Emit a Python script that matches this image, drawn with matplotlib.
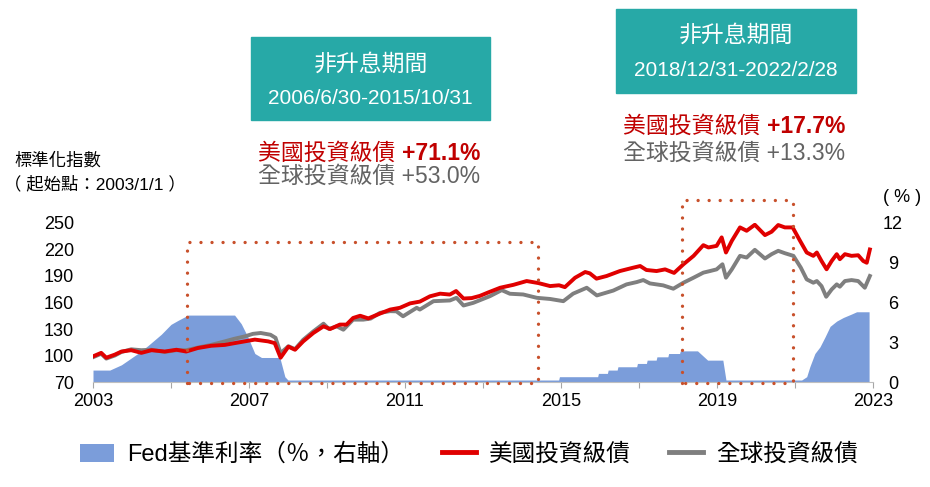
import matplotlib
matplotlib.use("Agg")
import matplotlib.pyplot as plt
from matplotlib.patches import Rectangle, Patch
from matplotlib.lines import Line2D

plt.rcParams['font.family'] = ['Liberation Sans', 'Noto Sans CJK TC', 'DejaVu Sans']

# ---- data (x in chart years) ----
us_t = [2003.00, 2003.21, 2003.34, 2003.56, 2003.73, 2003.98, 2004.24, 2004.50, 2004.84, 2005.14,
        2005.39, 2005.69, 2006.03, 2006.38, 2006.63, 2006.89, 2007.15, 2007.49, 2007.66, 2007.81,
        2008.01, 2008.18, 2008.39, 2008.65, 2008.91, 2009.08, 2009.33, 2009.50, 2009.67, 2009.85,
        2010.06, 2010.36, 2010.62, 2010.87, 2011.13, 2011.38, 2011.64, 2011.90, 2012.15, 2012.31,
        2012.50, 2012.71, 2012.92, 2013.14, 2013.44, 2013.78, 2014.12, 2014.42, 2014.72, 2014.95,
        2015.10, 2015.36, 2015.62, 2015.74, 2015.91, 2016.17, 2016.51, 2016.85, 2017.03, 2017.19,
        2017.45, 2017.67, 2017.90, 2018.14, 2018.40, 2018.65, 2018.78, 2018.99, 2019.12, 2019.23,
        2019.38, 2019.59, 2019.76, 2019.97, 2020.23, 2020.40, 2020.57, 2020.74, 2020.94, 2021.13,
        2021.30, 2021.47, 2021.56, 2021.68, 2021.81, 2021.94, 2022.07, 2022.15, 2022.28, 2022.45,
        2022.62, 2022.75, 2022.84, 2022.92]
us_v = [99, 103, 97.5, 101, 104.5, 106, 103, 106, 104.5, 106.5,
        104.5, 108.5, 111, 112, 114, 116, 118, 116, 114, 97.5,
        110, 106.5, 116, 125.5, 133, 130, 135, 135, 142.5, 145,
        142, 147.5, 152, 154, 159, 161, 167, 170, 169, 173,
        164.5, 165, 167.5, 171.5, 176.7, 180, 184.3, 182, 178.6, 179.5,
        177.4, 188, 194.5, 193, 187, 190, 195.6, 199.4, 201.3, 196.8,
        195.6, 197.5, 193.5, 203.3, 212.8, 224.9, 222.3, 224.1, 233.7, 216.6,
        229.8, 245, 241.2, 248, 236.3, 240.1, 247.7, 245, 245, 229.8,
        216.6, 212.8, 216.6, 207, 197.6, 207, 214.7, 209, 214.7, 212.8,
        213.5, 207, 205, 220]

gl_t = [2003.00, 2003.21, 2003.34, 2003.56, 2003.73, 2003.98, 2004.24, 2004.50, 2004.84, 2005.14,
        2005.39, 2005.69, 2006.03, 2006.38, 2006.63, 2006.89, 2007.10, 2007.30, 2007.55, 2007.68,
        2007.81, 2008.01, 2008.18, 2008.39, 2008.65, 2008.91, 2009.05, 2009.25, 2009.42, 2009.67,
        2009.93, 2010.12, 2010.36, 2010.62, 2010.78, 2010.95, 2011.30, 2011.38, 2011.73, 2012.15,
        2012.32, 2012.50, 2012.75, 2013.18, 2013.48, 2013.69, 2014.03, 2014.38, 2014.72, 2015.06,
        2015.31, 2015.66, 2015.92, 2016.34, 2016.68, 2016.94, 2017.11, 2017.28, 2017.62, 2017.88,
        2018.14, 2018.40, 2018.65, 2018.82, 2018.99, 2019.14, 2019.23, 2019.38, 2019.59, 2019.76,
        2019.97, 2020.23, 2020.40, 2020.57, 2020.74, 2020.96, 2021.15, 2021.30, 2021.47, 2021.56,
        2021.68, 2021.80, 2021.94, 2022.07, 2022.15, 2022.28, 2022.45, 2022.62, 2022.79, 2022.92]
gl_v = [98, 102, 96.5, 100, 104, 107, 106, 106.5, 104, 106,
        106, 109, 112, 116, 119, 121.6, 124.5, 125.5, 123.5, 120,
        102.7, 110.5, 107.2, 117.8, 127.3, 136, 130, 133, 129.2, 140.6,
        140.6, 141.8, 148.3, 150.2, 150, 144.4, 154, 152, 161.5, 162.3,
        165.3, 156.6, 159.6, 167.2, 174, 169.9, 169.1, 165.3, 164, 161.5,
        170, 176.7, 168, 173.5, 180.5, 183.1, 185.4, 181.6, 179.4, 175.6,
        182.4, 188.1, 193.8, 195.6, 197.5, 203.3, 188.1, 197.5, 212.8, 210.9,
        219.6, 209.8, 214.7, 218.5, 215.8, 212.8, 199.4, 186.2, 182.4, 184.3,
        178.6, 166.5, 174.8, 180.5, 177.9, 184.3, 185.4, 184.3, 176.7, 190]

fed_t = [2003.00, 2003.43, 2003.73, 2004.15, 2004.41, 2004.75, 2005.00, 2005.18, 2005.44, 2006.63,
         2006.80, 2006.97, 2007.15, 2007.32, 2007.79, 2007.92, 2008.00, 2014.94, 2014.96, 2015.94,
         2015.96, 2016.19, 2016.21, 2016.44, 2016.46, 2016.94, 2016.96, 2017.19, 2017.21, 2017.44,
         2017.46, 2017.74, 2017.76, 2018.04, 2018.06, 2018.50, 2018.76, 2019.15, 2019.23, 2021.17,
         2021.30, 2021.38, 2021.51, 2021.64, 2021.77, 2021.90, 2022.07, 2022.24, 2022.45, 2022.58,
         2022.90]
fed_v = [0.9, 0.9, 1.3, 2.15, 2.75, 3.6, 4.35, 4.65, 5.05, 5.05,
         4.4, 3.4, 2.15, 1.85, 1.85, 0.4, 0.15, 0.15, 0.4, 0.4,
         0.65, 0.65, 0.9, 0.9, 1.15, 1.15, 1.4, 1.4, 1.65, 1.65,
         1.9, 1.9, 2.15, 2.15, 2.35, 2.35, 1.65, 1.65, 0.15, 0.15,
         0.4, 1.15, 2.15, 2.65, 3.4, 4.2, 4.6, 4.87, 5.13, 5.3,
         5.3]

# dotted "non-hike" windows: x0, x1, top (left-axis units)
box1 = [2005.41, 2014.41, 228]
box2 = [2018.10, 2020.95, 276]

x_labels = [2003, 2007, 2011, 2015, 2019, 2023]
x_minor = [2005, 2009, 2013, 2017, 2021]
left_ticks = [70, 100, 130, 160, 190, 220, 250]
right_ticks = [0, 3, 6, 9, 12]

red = '#E00000'
red_txt = '#C00000'
gray = '#7F7F7F'
gray_txt = '#636363'
fed_c = '#7B9DDA'
teal = '#27A9A7'
dot_c = '#C8502B'

fig = plt.figure(figsize=(9.3, 4.87), dpi=100)
ax = fig.add_axes([0.1, 0.2156, 0.8387, 0.3265])
ax2 = ax.twinx()
ax.set_zorder(ax2.get_zorder() + 1)
ax.patch.set_visible(False)

# fed rate (right axis)
ax2.fill_between(fed_t, 0, fed_v, color=fed_c, linewidth=0)
ax2.set_ylim(0, 11.85)
ax2.set_yticks(right_ticks)
ax2.tick_params(axis='y', length=0, pad=14.4, labelsize=13)
for lab in ax2.get_yticklabels():
    lab.set_ha('center')

# index lines (left axis)
ax.plot(gl_t, gl_v, color=gray, lw=2.8, solid_joinstyle='round')
ax.plot(us_t, us_v, color=red, lw=2.8, solid_joinstyle='round')

for x0, x1, top in [box1, box2]:
    ax.plot([x0, x0, x1, x1, x0], [69, top, top, 69, 69], color=dot_c, lw=2.4,
            linestyle=(0, (0.01, 3.3)), dash_capstyle='round', clip_on=False, zorder=6)

ax.set_xlim(2003, 2023)
ax.set_ylim(70, 250)
ax.set_yticks(left_ticks)
ax.tick_params(axis='y', length=0, pad=13.7, labelsize=13)
ax.set_xticks(x_labels)
ax.set_xticks(x_minor, minor=True)
ax.tick_params(axis='x', which='both', length=4, color='#A6A6A6', width=0.8, labelsize=13, pad=4)

for a in (ax, ax2):
    for s in ['top', 'left', 'right', 'bottom']:
        a.spines[s].set_visible(False)
ax.spines['bottom'].set_visible(True)
ax.spines['bottom'].set_color('#BFBFBF')
ax.spines['bottom'].set_linewidth(0.8)

# axis titles
fig.text(0.015, 1 - 160 / 487, '標準化指數', fontsize=12.5, va='center')
fig.text(0.004, 1 - 184 / 487, '（ 起始點：2003/1/1 ）', fontsize=12.5, va='center')
fig.text(902 / 930, 1 - 197 / 487, '( % )', fontsize=13, va='center', ha='center')

# teal header boxes
fig.patches.append(Rectangle((251 / 930, 1 - 120 / 487), 239 / 930, 83 / 487,
                             transform=fig.transFigure, color=teal, zorder=0))
fig.patches.append(Rectangle((616 / 930, 1 - 93 / 487), 240 / 930, 84 / 487,
                             transform=fig.transFigure, color=teal, zorder=0))
fig.text(370.5 / 930, 1 - 64 / 487, '非升息期間', color='white', fontsize=16.5, ha='center', va='center')
fig.text(370.5 / 930, 1 - 98 / 487, '2006/6/30-2015/10/31', color='white', fontsize=15, ha='center', va='center')
fig.text(736 / 930, 1 - 35 / 487, '非升息期間', color='white', fontsize=16.5, ha='center', va='center')
fig.text(736 / 930, 1 - 71 / 487, '2018/12/31-2022/2/28', color='white', fontsize=15, ha='center', va='center')

# returns over the windows
renderer = fig.canvas.get_renderer()
notes = [(258, 160, '+71.1%', '+53.0%', 183), (623, 133, '+17.7%', '+13.3%', 160)]
for x_px, y_red, us_ret, gl_ret, y_gray in notes:
    t1 = fig.text(x_px / 930, 1 - y_red / 487, '美國投資級債 ', color=red_txt, fontsize=16.5, va='baseline')
    bb = t1.get_window_extent(renderer)
    fig.text(bb.x1 / fig.bbox.width, 1 - y_red / 487, us_ret, color=red_txt, fontsize=16.5,
             fontweight='bold', va='baseline')
    fig.text(x_px / 930, 1 - y_gray / 487, '全球投資級債 ' + gl_ret, color=gray_txt, fontsize=16.5, va='baseline')

# legend
handles = [Patch(facecolor=fed_c, edgecolor='none'),
           Line2D([], [], color=red, lw=3.5),
           Line2D([], [], color=gray, lw=3.5)]
labels = ['Fed基準利率（％，右軸）', '美國投資級債', '全球投資級債']
fig.legend(handles, labels, loc='center', bbox_to_anchor=(0.504, 0.066), ncol=3, frameon=False,
           fontsize=17, handlelength=1.45, handleheight=0.85, handletextpad=0.55, columnspacing=1.6)

fig.savefig('out.png', dpi=100)
